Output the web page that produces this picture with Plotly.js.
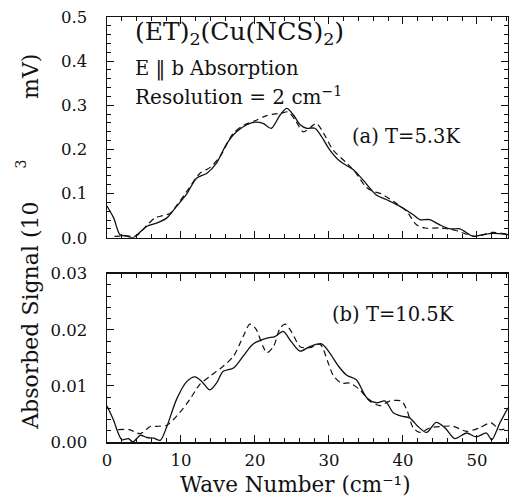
<!DOCTYPE html>
<html>
<head>
<meta charset="utf-8">
<script src="https://cdn.plot.ly/plotly-3.0.1.min.js"></script>
<style>html,body{margin:0;padding:0;background:#fff;}#chart{width:509px;height:496px;}</style>
</head>
<body>
<div id="chart"></div>
<script>
// Panel (a) T=5.3K
const aSolidX = [0,0.9,1.75,2.6,3.5,4.4,5.4,6.7,8.1,9.4,10.8,12.1,13.5,14.8,16.2,17.5,18.9,20,21.1,22.2,23.4,24.3,25.2,26.1,27,28.1,29,30.1,31.5,33.3,34.6,36.4,37.8,39.6,41.4,42.3,43.6,45,46.4,47.7,49.5,50.8,52.2,54.2];
const aSolidY = [0.072,0.045,0.007,0.004,0.0,0.012,0.026,0.033,0.045,0.071,0.10,0.135,0.146,0.169,0.214,0.24,0.256,0.262,0.259,0.248,0.278,0.293,0.278,0.256,0.248,0.248,0.229,0.199,0.173,0.154,0.131,0.097,0.086,0.071,0.052,0.041,0.041,0.029,0.02,0.02,0.003,0.007,0.01,0.007];
const aDashX = [1,2.5,4,5.5,6.5,7.5,8.5,9.5,11,12.5,14,15.5,17,18.5,20,21.3,22.5,23.5,24.5,25.5,26.5,27.5,28.3,29.5,30.5,32.4,33.5,35,36,37,39.1,40.5,41.8,43,45,47,49,50,52,54.2];
const aDashY = [0.003,0.004,0.005,0.03,0.045,0.05,0.055,0.075,0.11,0.145,0.16,0.19,0.235,0.255,0.265,0.275,0.28,0.282,0.285,0.265,0.24,0.25,0.259,0.23,0.2,0.169,0.15,0.115,0.105,0.1,0.078,0.06,0.03,0.022,0.022,0.017,0.006,0.003,0.012,0.008];
// Panel (b) T=10.5K
const bSolidX = [0,0.85,2,2.9,3.5,4.5,5.4,6.3,7.2,8.1,9.4,10.8,11.9,12.8,13.9,14.8,15.7,17.1,18.4,19.8,21.6,22.7,23.8,24.9,26.1,27.4,29,30.1,31.3,32.4,33.7,35.1,36.4,37.6,38.7,39.8,40.9,42,43.2,44.5,45.7,47,48.6,49.9,51.3,52,53.1,54.2];
const bSolidY = [0.0064,0.004,0.0004,0.0006,0.0,0.0012,0.0008,0.0007,0.0003,0.0028,0.0076,0.0108,0.0116,0.0108,0.0093,0.0105,0.0126,0.0132,0.0153,0.0175,0.0185,0.0188,0.0197,0.0179,0.0162,0.017,0.0175,0.0159,0.0135,0.0119,0.0111,0.0079,0.007,0.0073,0.0052,0.0046,0.0043,0.0028,0.0017,0.0035,0.0025,0.0006,0.0016,0.0009,0.0016,0.0004,0.0034,0.0061];
const bDashX = [1.5,3,4.5,5.9,6.7,8.1,9.8,11.2,12.5,14,15.7,17.1,18.4,19.3,20.1,21.1,21.6,22.5,23.4,24.1,25,26.1,27.4,28.8,29.9,30.6,31.7,32.8,34.2,35.5,36.9,38.2,39.8,40.5,41.4,42.3,43.6,45.4,46.8,48.6,50.3,51.9,53.1,54.2];
const bDashY = [0.0022,0.0022,0.0015,0.0028,0.0028,0.003,0.0052,0.0076,0.0102,0.0118,0.0135,0.0153,0.0188,0.021,0.0202,0.017,0.0159,0.017,0.0203,0.021,0.0195,0.017,0.0168,0.0174,0.0141,0.0118,0.0105,0.0105,0.0093,0.0073,0.0065,0.0073,0.0073,0.0058,0.0025,0.0017,0.0025,0.0028,0.0028,0.0019,0.0025,0.0034,0.0022,0.0025];

const FONT = 'DejaVu Serif, Liberation Serif, serif';
const solid = {color:'#111', width:1.3, shape:'spline', smoothing:0.8};
const dashed = {color:'#111', width:1.2, dash:'6px,4px', shape:'spline', smoothing:0.8};

const traces = [
  {x:aSolidX, y:aSolidY, xaxis:'x2', yaxis:'y2', mode:'lines', line:solid},
  {x:aDashX, y:aDashY, xaxis:'x2', yaxis:'y2', mode:'lines', line:dashed},
  {x:bSolidX, y:bSolidY, xaxis:'x', yaxis:'y', mode:'lines', line:solid},
  {x:bDashX, y:bDashY, xaxis:'x', yaxis:'y', mode:'lines', line:dashed}
];

const xr = [0, 54.2];
const axCommon = {
  showline:true, linecolor:'#111', linewidth:1.5, mirror:'ticks',
  ticks:'inside', ticklen:7, tickwidth:1, tickcolor:'#111',
  showgrid:false, zeroline:false, fixedrange:true,
  tickfont:{family:FONT, size:16.5, color:'#111'}
};
const minorT = (d) => ({dtick:d, ticklen:4, ticks:'inside', tickcolor:'#111', tickwidth:1});
const ann = (x, y, text, size, extra) => Object.assign({xref:'paper', yref:'paper', x:x, y:y, xanchor:'left', yanchor:'middle',
  showarrow:false, text:text, font:{family:FONT, size:size, color:'#111'}}, extra || {});
const layout = {
  width:509, height:496,
  margin:{l:107, r:1, t:17, b:53.5},
  paper_bgcolor:'#fff', plot_bgcolor:'#fff',
  showlegend:false,
  xaxis: Object.assign({}, axCommon, {domain:[0,1], anchor:'y', range:xr, dtick:10, tick0:0,
    minor:minorT(2), ticklabelstandoff:3}),
  yaxis: Object.assign({}, axCommon, {domain:[0,0.396], anchor:'x', range:[0,0.03], dtick:0.01, tick0:0, tickformat:'.2f',
    minor:minorT(0.002), ticklabelstandoff:15}),
  xaxis2: Object.assign({}, axCommon, {domain:[0,1], anchor:'y2', range:xr, dtick:10, tick0:0, showticklabels:false,
    minor:minorT(2)}),
  yaxis2: Object.assign({}, axCommon, {domain:[0.4806,1], anchor:'x2', range:[0,0.5], dtick:0.1, tick0:0, tickformat:'.1f',
    minor:minorT(0.02), ticklabelstandoff:15}),
  annotations:[
    // y-axis title (pieces placed to follow the reference spacing)
    ann(-0.1895, 0.297, 'Absorbed Signal (10', 22, {xanchor:'center', textangle:-90}),
    ann(-0.2145, 0.655, '3', 14, {xanchor:'center', textangle:-90}),
    ann(-0.1895, 0.859, 'mV)', 22, {xanchor:'center', textangle:-90}),
    // x-axis title
    ann(0.469, -0.099, 'Wave Number (cm\u207B\u00B9)', 21.5, {xanchor:'center'}),
    ann(0.065, 0.962, '(ET)<sub>2</sub>(Cu(NCS)<sub>2</sub>)', 25),
    ann(0.065, 0.877, 'E \u2016 b Absorption', 19.5),
    ann(0.065, 0.813, 'Resolution = 2 cm<sup>\u22121</sup>', 20),
    ann(0.605, 0.718, '(a) T=5.3K', 19.5),
    ann(0.555, 0.300, '(b) T=10.5K', 19.5)
  ]
};
Plotly.newPlot('chart', traces, layout, {displayModeBar:false, staticPlot:true});
</script>
</body>
</html>
